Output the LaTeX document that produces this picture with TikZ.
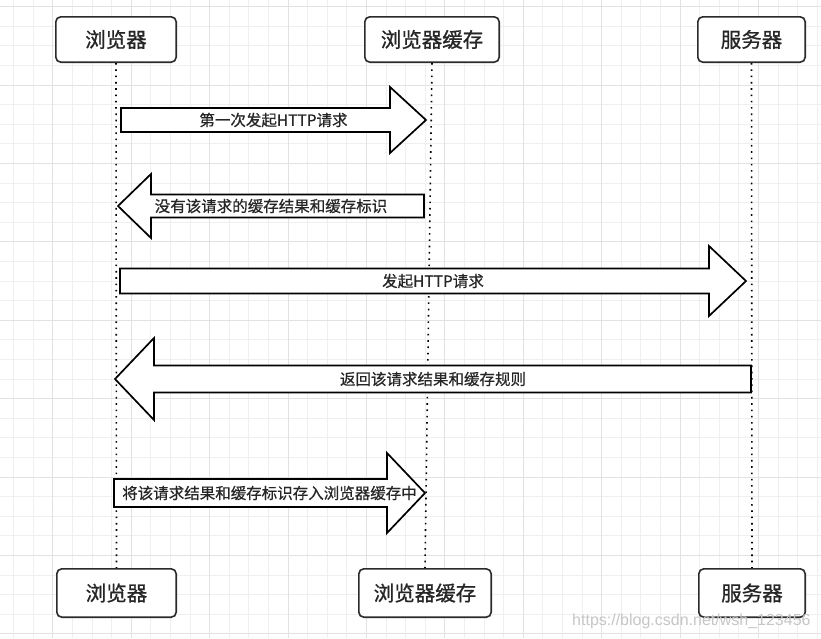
\documentclass[tikz,border=0pt]{standalone}
\usepackage{fontspec}
\setmainfont{Liberation Sans}
\newfontfamily\cjk[FakeBold=0.6]{Noto Sans CJK SC}
\newfontfamily\cjkhead[FakeBold=0.9]{Noto Sans CJK SC}
\definecolor{gridminor}{HTML}{EFEFEF}
\definecolor{gridmajor}{HTML}{E2E2E2}
\definecolor{boxline}{HTML}{2B2B2B}
\definecolor{txt}{HTML}{262626}
\definecolor{wmark}{HTML}{C6C6C6}
\begin{document}
\begin{tikzpicture}[x=1pt,y=-1pt,
  actor/.style={draw=boxline, line width=1.6pt, rounded corners=5pt, fill=white, inner sep=0pt,
    font=\cjkhead\fontsize{20.5}{24}\selectfont, text=txt},
  lifeline/.style={line width=1.6pt, dash pattern=on 1.6pt off 4.7pt, black},
  bigarrow/.style={draw=black, line width=1.7pt, fill=white, line join=miter},
  msg/.style={font=\cjk\fontsize{15.5}{18}\selectfont, text=txt, inner sep=0pt},
  gmin/.style={draw=gridminor, line width=0.8pt},
  gmaj/.style={draw=gridmajor, line width=0.9pt}]
\useasboundingbox (0,0) rectangle (821,638);
\fill[white] (0,0) rectangle (821,638);
% grid
\foreach \i in {0,...,41} \draw[gmin] ({13.6+19.6*\i},0) -- ({13.6+19.6*\i},638);
\foreach \i in {0,...,32} \draw[gmin] (0,{6.6+19.6*\i}) -- (821,{6.6+19.6*\i});
\foreach \i in {0,...,10} \draw[gmaj] ({52.8+78.4*\i},0) -- ({52.8+78.4*\i},638);
\foreach \i in {0,...,8} \draw[gmaj] (0,{6.6+78.4*\i}) -- (821,{6.6+78.4*\i});

% actors
\node[actor, minimum width=120.4pt, minimum height=45.4pt] (b1t) at (116,39.5) {浏览器};
\node[actor, minimum width=134.4pt, minimum height=45.4pt] (b2t) at (432,39.5) {浏览器缓存};
\node[actor, minimum width=107.4pt, minimum height=45.4pt] (b3t) at (751.5,39.5) {服务器};
\node[actor, minimum width=119.4pt, minimum height=48.4pt] (b1b) at (116.5,593) {浏览器};
\node[actor, minimum width=132.4pt, minimum height=48.4pt] (b2b) at (425,593) {浏览器缓存};
\node[actor, minimum width=106.4pt, minimum height=48.4pt] (b3b) at (752,593) {服务器};

% lifelines
\draw[lifeline] (b1t.south) -- (b1b.north);
\draw[lifeline] (b2t.south) -- (b2b.north);
\draw[lifeline] (b3t.south) -- (b3b.north);

% message 1
\draw[bigarrow] (121,108) -- (390,108) -- (390,87) -- (426,120) -- (390,153) -- (390,132) -- (121,132) -- cycle;
\node[msg] (m1) at (273.5,120) {第一次发起HTTP请求};
% message 2
\draw[bigarrow] (424,194.5) -- (151,194.5) -- (151,174) -- (118,206) -- (151,238) -- (151,217.5) -- (424,217.5) -- cycle;
\node[msg] (m2) at (271,206) {没有该请求的缓存结果和缓存标识};
% message 3
\draw[bigarrow] (120,268.5) -- (709,268.5) -- (709,246) -- (746,281) -- (709,316) -- (709,293.5) -- (120,293.5) -- cycle;
\node[msg] (m3) at (433,281) {发起HTTP请求};
% message 4
\draw[bigarrow] (751,365.5) -- (154,365.5) -- (154,338) -- (115,379) -- (154,420) -- (154,392.5) -- (751,392.5) -- cycle;
\node[msg] (m4) at (433,379) {返回该请求结果和缓存规则};
% message 5
\draw[bigarrow] (114,479) -- (387,479) -- (387,453) -- (425,493) -- (387,533) -- (387,507) -- (114,507) -- cycle;
\node[msg] (m5) at (269.5,493) {将该请求结果和缓存标识存入浏览器缓存中};

% watermark
\node[anchor=base west, inner sep=0pt, text=wmark, font=\fontsize{16}{18}\selectfont] (wm) at (572,625) {https://blog.csdn.net/wsh\_123456};
\end{tikzpicture}
\end{document}
